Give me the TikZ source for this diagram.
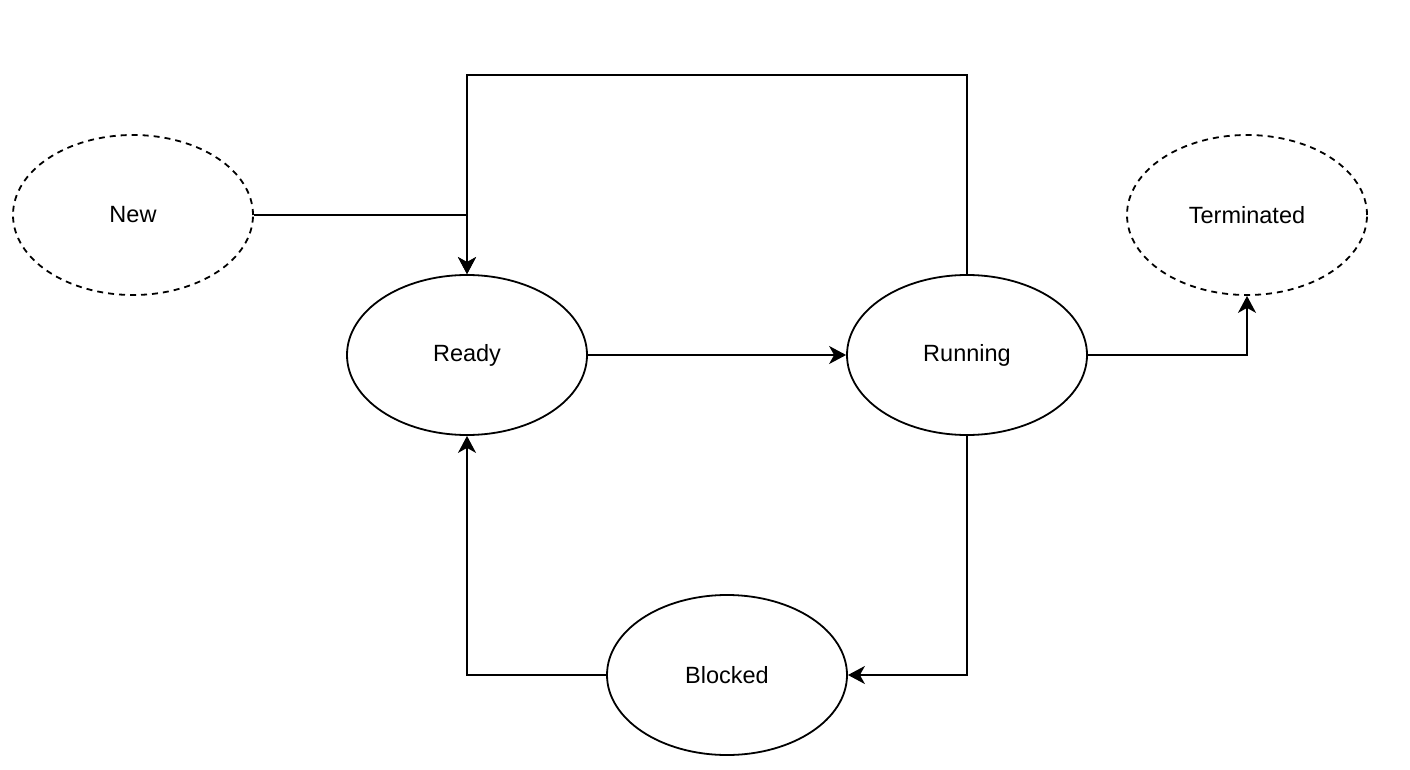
\documentclass[tikz,border=0pt]{standalone}
\usepackage{fontspec}
\setmainfont{Liberation Sans}
\usetikzlibrary{arrows.meta}
\usetikzlibrary{shapes.geometric}

\tikzset{
    state/.style={ellipse, draw, line width=1.8pt, minimum width=240pt, minimum height=160pt,
        inner sep=0pt, font=\fontsize{23.5}{28}\selectfont},
    endstate/.style={state, dash pattern=on 6pt off 5pt},
    trans/.style={line width=1.8pt, -{Stealth[length=17pt, width=18pt, inset=5pt]}}
}

\begin{document}
\begin{tikzpicture}[x=1pt, y=-1pt]
        \useasboundingbox (0,0) rectangle (1410,770);
        \node[endstate] (new) at (133,215) {New};
        \node[state] (ready) at (467,355) {Ready};
        \node[state] (running) at (967,355) {Running};
        \node[endstate] (term) at (1247,215) {Terminated};
        \node[state] (blocked) at (727,675) {Blocked};
        \coordinate (loop) at (967,75);
        \draw[trans] (new.east) -| (ready.north);
        \draw[trans] (running.north) -- (loop) -| (ready.north);
        \draw[trans] (ready.east) -- (running.west);
        \draw[trans] (running.east) -| (term.south);
        \draw[trans] (running.south) |- (blocked.east);
        \draw[trans] (blocked.west) -| (ready.south);
    \end{tikzpicture}
\end{document}
